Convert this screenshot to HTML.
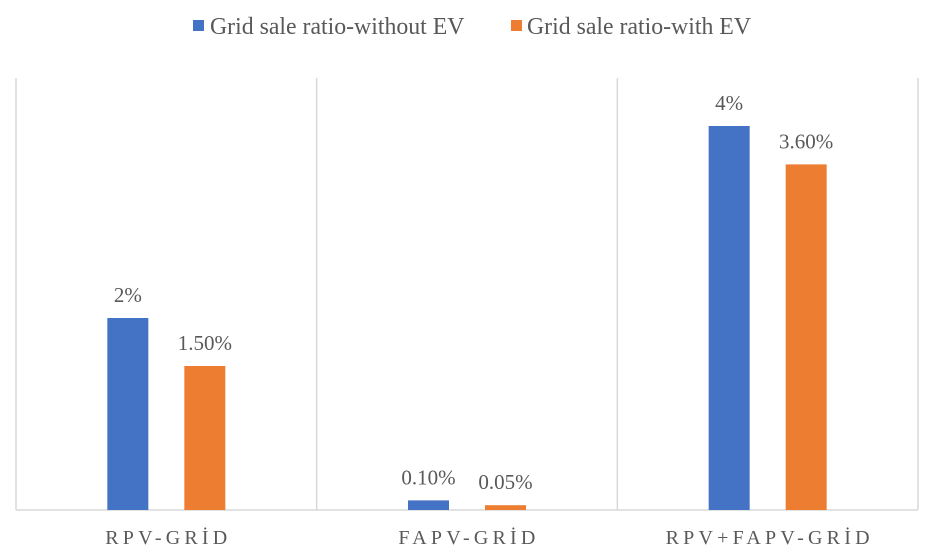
<!DOCTYPE html>
<html><head><meta charset="utf-8"><style>
html,body{margin:0;padding:0;background:#fff;}
svg{display:block;font-family:"Liberation Serif",serif;}
</style></head><body>
<svg id="chart" width="930" height="553">
<g>
<g><rect x="193" y="20" width="11" height="11" fill="#4472C4"/><text x="210" y="34" font-size="23.8" fill="#595959">Grid sale ratio-without EV</text></g>
<g><rect x="511" y="20" width="11" height="11" fill="#ED7D31"/><text x="527" y="34" font-size="23.8" fill="#595959">Grid sale ratio-with EV</text></g>
</g>
<g id="plot"></g>
</svg>
<script>
const categories=["RPV-GRİD","FAPV-GRİD","RPV+FAPV-GRİD"];
const withoutEV=[2,0.1,4];
const withEV=[1.5,0.05,3.6];
const withoutLabels=["2%","0.10%","4%"];
const withLabels=["1.50%","0.05%","3.60%"];
const NS="http://www.w3.org/2000/svg";
const plot=document.getElementById('plot');
const x0=16,x1=918,base=510,pxPer=96;
const cw=(x1-x0)/categories.length;
function y(v){return base-v*pxPer;}
function el(t,a){const e=document.createElementNS(NS,t);for(const k in a)e.setAttribute(k,a[k]);plot.appendChild(e);return e;}
for(let i=0;i<=categories.length;i++){
 const l=el('line',{x1:x0+i*cw,x2:x0+i*cw,y1:78,y2:base,stroke:'#d9d9d9','stroke-width':1.5});
 
 
}
const ax=el('line',{x1:x0,x2:x1,y1:base,y2:base,stroke:'#d9d9d9','stroke-width':1.5});


categories.forEach((c,i)=>{
 const cx=x0+cw*i+cw/2;
 const series=[[withoutEV[i],withoutLabels[i],'#4472C4',cx-59,'bar-without-ev'],[withEV[i],withLabels[i],'#ED7D31',cx+18,'bar-with-ev']];
 series.forEach(s=>{
  const r=el('rect',{x:s[3],y:y(s[0]),width:41,height:base-y(s[0]),fill:s[2]});
  
  
  const t=el('text',{x:s[3]+20.5,y:y(s[0])-16,'text-anchor':'middle','font-size':21,fill:'#595959'});
  t.textContent=s[1];
  
  
 });
 const lt=el('text',{x:cx+2,y:544,'text-anchor':'middle','font-size':20,fill:'#595959','letter-spacing':4.2});
 lt.textContent=c;
 
 
});
</script>
</body></html>
